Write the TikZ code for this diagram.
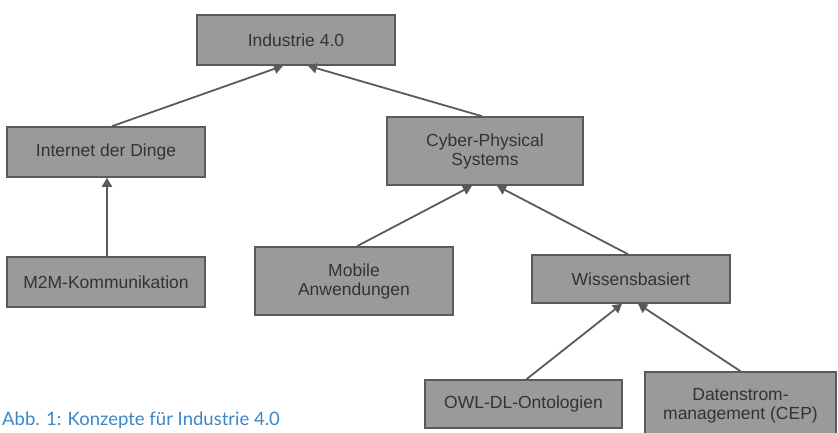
\documentclass[tikz,border=0pt]{standalone}
\usepackage{fontspec}
\setmainfont{Liberation Sans}
\newfontfamily\captionfont{Lato}
\usetikzlibrary{arrows.meta}
\definecolor{boxgray}{HTML}{9A9A9A}
\definecolor{edgegray}{HTML}{5A5A5A}
\definecolor{captionblue}{HTML}{3D86C6}
\begin{document}
\begin{tikzpicture}[x=1pt,y=-1pt,
    konzept/.style={draw=edgegray, line width=1.6pt, fill=boxgray, text=black!80,
        minimum width=198pt, minimum height=50pt, align=center, inner sep=0pt,
        font=\fontsize{17.5}{19}\selectfont},
    pfeil/.style={edgegray, line width=1.8pt, -{Triangle[length=9pt,width=10pt]}}]
    \useasboundingbox (0,0) rectangle (838,433);
    % Knoten
    \node[konzept] (ind) at (296,40) {Industrie 4.0};
    \node[konzept] (idd) at (106,152) {Internet der Dinge};
    \node[konzept, minimum width=196pt, minimum height=68pt] (cps) at (485,151) {Cyber-Physical\\Systems};
    \node[konzept] (m2m) at (106,282) {M2M-Kommunikation};
    \node[konzept, minimum height=68pt] (mob) at (354,281) {Mobile\\Anwendungen};
    \node[konzept, minimum height=48pt] (wis) at (631,279) {Wissensbasiert};
    \node[konzept, minimum width=197pt, minimum height=48pt] (owl) at (523.5,404) {OWL-DL-Ontologien};
    \node[konzept, minimum width=191pt, minimum height=68pt] (dat) at (740.5,406) {Datenstrom-\\management (CEP)};
    % Pfeile
    \draw[pfeil] ([xshift=6pt]idd.north) -- ([xshift=-13pt]ind.south);
    \draw[pfeil] ([xshift=-3pt]cps.north) -- ([xshift=12pt]ind.south);
    \draw[pfeil] ([xshift=1pt]m2m.north) -- ([xshift=1pt]idd.south);
    \draw[pfeil] ([xshift=3pt]mob.north) -- ([xshift=-13pt]cps.south);
    \draw[pfeil] ([xshift=-3pt]wis.north) -- ([xshift=12pt]cps.south);
    \draw[pfeil] ([xshift=3pt]owl.north) -- ([xshift=-9pt]wis.south);
    \draw[pfeil] ([xshift=0pt]dat.north) -- ([xshift=7pt]wis.south);
    % Bildunterschrift
    \node[anchor=north west, inner sep=0pt, text=captionblue,
        font=\captionfont\fontsize{18.5}{21}\selectfont] (cap) at (2,412) {Abb. 1: Konzepte für Industrie 4.0};
\end{tikzpicture}
\end{document}
